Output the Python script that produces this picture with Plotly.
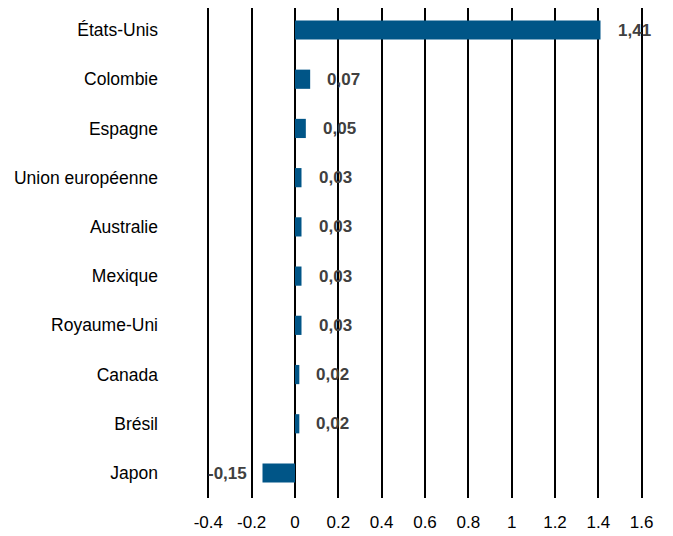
import plotly.graph_objects as go

categories = ["États-Unis", "Colombie", "Espagne", "Union européenne", "Australie",
              "Mexique", "Royaume-Uni", "Canada", "Brésil", "Japon"]
values = [1.41, 0.07, 0.05, 0.03, 0.03, 0.03, 0.03, 0.02, 0.02, -0.15]
tick_vals = [-0.4, -0.2, 0, 0.2, 0.4, 0.6, 0.8, 1, 1.2, 1.4, 1.6]
tick_text = ["-0.4", "-0.2", "0", "0.2", "0.4", "0.6", "0.8", "1", "1.2", "1.4", "1.6"]

font_family = "Liberation Sans, Arial, sans-serif"

fig = go.Figure(go.Bar(
    x=values, y=categories, orientation="h",
    marker=dict(color="#005587", line=dict(width=0)),
    width=0.39,
))

for c, v in zip(categories, values):
    label = f"{v:.2f}".replace(".", ",")
    fig.add_annotation(
        x=v, y=c, text=f"<b>{label}</b>", showarrow=False,
        xanchor="left" if v >= 0 else "right",
        xshift=15 if v >= 0 else -14,
        font=dict(family=font_family, size=17, color="#404040"),
    )

fig.update_layout(
    width=673, height=536,
    margin=dict(l=196, r=35, t=0, b=46, autoexpand=False),
    paper_bgcolor="white", plot_bgcolor="white",
    showlegend=False,
    font=dict(family=font_family, size=17, color="#000000"),
    xaxis=dict(
        range=[-0.42, 1.62], tickvals=tick_vals, ticktext=tick_text,
        showgrid=True, gridcolor="#000000", gridwidth=1.5,
        zeroline=True, zerolinecolor="#000000", zerolinewidth=1.5,
        showline=False, ticks="", fixedrange=True, automargin=False,
        ticklabelstandoff=12,
        tickfont=dict(size=17, color="#000000"),
    ),
    yaxis=dict(
        categoryorder="array", categoryarray=categories[::-1],
        range=[-0.508, 9.447],
        showgrid=False, zeroline=False, showline=False, ticks="",
        automargin=False, fixedrange=True,
        ticklabelstandoff=45,
        tickfont=dict(size=17.5, color="#000000"),
    ),
)

fig.write_html("out.html")
